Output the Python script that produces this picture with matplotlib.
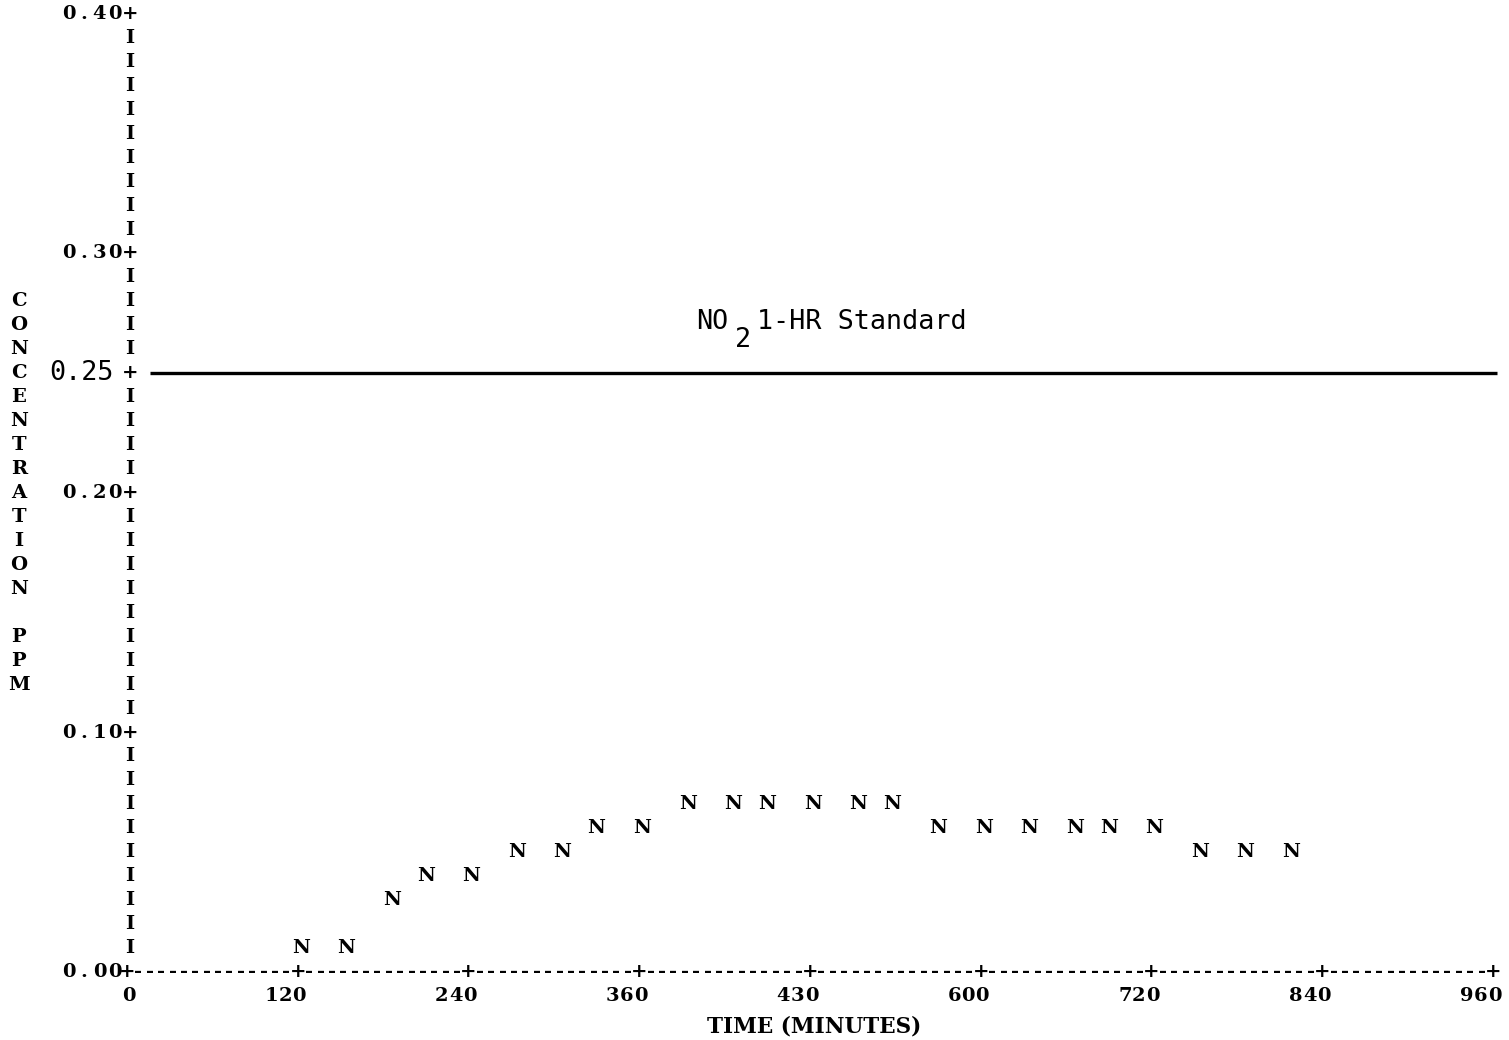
import matplotlib
matplotlib.use('Agg')
import matplotlib.pyplot as plt
from matplotlib.transforms import offset_copy

# Data
time_min = [120, 152, 184, 208, 240, 272, 304, 328, 360, 392, 424, 448,
            480, 512, 536, 568, 600, 632, 664, 688, 720, 752, 784, 816]
no2_ppm = [0.01, 0.01, 0.03, 0.04, 0.04, 0.05, 0.05, 0.06, 0.06, 0.07, 0.07, 0.07,
           0.07, 0.07, 0.07, 0.06, 0.06, 0.06, 0.06, 0.06, 0.06, 0.05, 0.05, 0.05]

x_ticks = [0, 120, 240, 360, 480, 600, 720, 840, 960]
x_tick_labels = ['0', '120', '240', '360', '430', '600', '720', '840', '960']
y_ticks = [0.00, 0.10, 0.20, 0.30, 0.40]
y_label_letters = list('CONCENTRATION') + [''] + list('PPM')

std_level = 0.25
std_span = [16, 963]
std_label = '1-HR Standard'

PRN = dict(family='DejaVu Serif', fontweight='bold', fontsize=14,
           color='black')
TYPE = dict(family='DejaVu Sans Mono', fontsize=19.3, color='black')

fig = plt.figure(figsize=(15.09, 10.40), dpi=100)
ax = fig.add_axes([127 / 1509, (1040 - 972) / 1040,
                   1366 / 1509, 958 / 1040])
ax.set_xlim(0, 960)
ax.set_ylim(0, 0.40)
ax.axis('off')


def prn(x, y, s, align='center', pitch=14):
    # print a string with a fixed character pitch, like a line printer
    n = len(s)
    for i, ch in enumerate(s):
        if align == 'right':
            dx = (i - (n - 1)) * pitch
        elif align == 'left':
            dx = i * pitch
        else:
            dx = (i - (n - 1) / 2) * pitch
        tr = offset_copy(ax.transData, fig=fig, x=dx, y=0, units='dots')
        ax.text(x, y, ch, transform=tr, ha='center', va='center', **PRN)


# vertical axis made of characters, one per 0.01 row
for r in range(1, 41):
    y = r / 100
    ch = '+' if (r % 10 == 0 or r == 25) else 'I'
    ax.text(2, y, ch, ha='center', va='center', **PRN)

# horizontal axis, one character per 8 minutes
for m in range(0, 961, 8):
    ch = '+' if m % 120 == 0 else '-'
    ax.text(m, 0, ch, ha='center', va='center', **PRN)

for v in y_ticks:
    prn(-8.5, v, f'{v:.2f}', align='right', pitch=15.5)
ax.text(-9, std_level, f'{std_level:.2f}', ha='right', va='center', **TYPE)

for t, lab in zip(x_ticks, x_tick_labels):
    prn(t + 1, -0.01, lab, align='right', pitch=14)

ax.text(483, -0.0228, 'TIME (MINUTES)', ha='center', va='center',
        family='DejaVu Serif', fontweight='bold', fontsize=15.5, color='black')

for i, ch in enumerate(y_label_letters):
    ax.text(-76, 0.28 - i / 100, ch, ha='center', va='center', **PRN)

# data points printed as 'N'
for t, c in zip(time_min, no2_ppm):
    ax.text(t + 2, c, 'N', ha='center', va='center', **PRN)

# NO2 standard line
ax.plot(std_span, [std_level, std_level], color='black', lw=2.4,
        clip_on=False, solid_capstyle='butt')
ax.text(400, 0.2715, 'NO', ha='left', va='center', **TYPE)
ax.text(427, 0.264, '2', ha='left', va='center', **TYPE)
ax.text(443, 0.2715, std_label, ha='left', va='center', **TYPE)

fig.savefig('out.png', dpi=100, facecolor='white')
